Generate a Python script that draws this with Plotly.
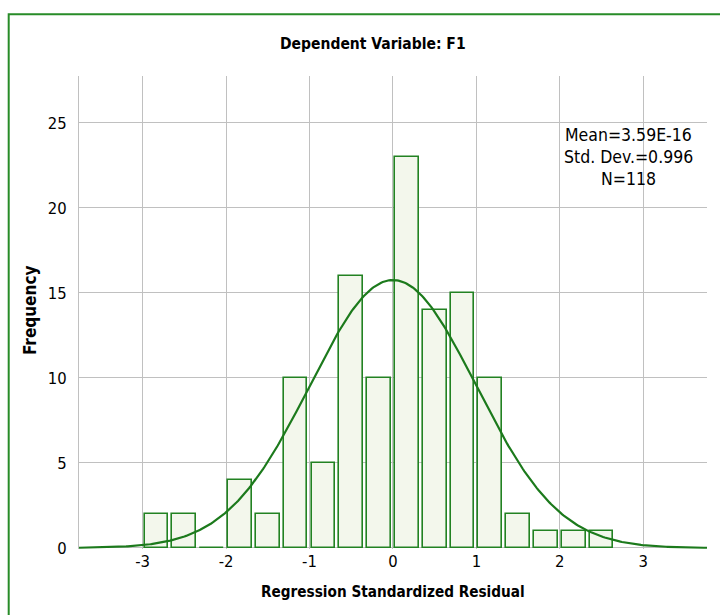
import numpy as np
import plotly.graph_objects as go

# ---- data ----
bin_centers = [-2.833, -2.5, -2.167, -1.833, -1.5, -1.167, -0.833, -0.5, -0.167,
               0.167, 0.5, 0.833, 1.167, 1.5, 1.833, 2.167, 2.5]
frequencies = [2, 2, 0, 4, 2, 10, 5, 16, 10, 23, 14, 15, 10, 2, 1, 1, 1]
x_ticks = [-3, -2, -1, 0, 1, 2, 3]
y_ticks = [0, 5, 10, 15, 20, 25]
stats_lines = ["Mean=3.59E-16", "Std. Dev.=0.996", "N=118"]
MEAN = 3.59e-16
STD = 0.996
N = 118
BIN_WIDTH = 1 / 3
title_text = "Dependent Variable: F1"
x_title = "Regression Standardized Residual"
y_title = "Frequency"

# fitted normal curve (from the stated mean / std / N)
X_MIN, X_MAX = -3.763, 3.764
curve_x = np.linspace(X_MIN, X_MAX, 400)
curve_y = N * BIN_WIDTH * np.exp(-0.5 * ((curve_x - MEAN) / STD) ** 2) / (STD * np.sqrt(2 * np.pi))

FONT = "DejaVu Sans Condensed, Tahoma, DejaVu Sans, sans-serif"
GREEN = "rgb(34,130,34)"
GRID = "rgb(192,192,192)"

fig = go.Figure()
fig.add_trace(go.Bar(
    x=bin_centers, y=frequencies, width=0.285,
    marker=dict(color="rgb(243,247,236)", line=dict(color=GREEN, width=1.6)),
    hoverinfo="x+y", showlegend=False,
))
fig.add_trace(go.Scatter(
    x=curve_x, y=curve_y, mode="lines",
    line=dict(color="rgb(28,122,28)", width=2.2),
    hoverinfo="skip", showlegend=False,
))

W, H = 720, 615
L, R, T, B = 79, 13, 76, 66
pw, ph = W - L - R, H - T - B

def px(xp):
    return (xp - L) / pw

def py(yp):
    return (H - B - yp) / ph

annotations = [
    dict(text=f"<b>{title_text}</b>", x=px(373), y=py(44), xref="paper", yref="paper",
         showarrow=False, xanchor="center", yanchor="middle",
         font=dict(family=FONT, size=15.5, color="black")),
    dict(text=f"<b>{x_title}</b>", x=px(393), y=py(592), xref="paper", yref="paper",
         showarrow=False, xanchor="center", yanchor="middle",
         font=dict(family=FONT, size=15.2, color="black")),
    dict(text=f"<b>{y_title}</b>", x=px(30), y=py(311), xref="paper", yref="paper",
         showarrow=False, xanchor="center", yanchor="middle", textangle=-90,
         font=dict(family=FONT, size=17, color="black")),
]
for i, line in enumerate(stats_lines):
    annotations.append(dict(
        text=line, x=px(628), y=py(135 + 22 * i), xref="paper", yref="paper",
        showarrow=False, xanchor="center", yanchor="middle",
        font=dict(family=FONT, size=17.5, color="black")))

fig.update_layout(
    width=W, height=H,
    margin=dict(l=L, r=R, t=T, b=B),
    paper_bgcolor="white", plot_bgcolor="white",
    bargap=0,
    annotations=annotations,
    shapes=[dict(type="rect", xref="paper", yref="paper",
                 x0=px(8.7), x1=px(760), y0=py(660), y1=py(14.3),
                 line=dict(color="rgb(40,140,40)", width=2), layer="above")],
    xaxis=dict(range=[X_MIN, X_MAX], tickvals=x_ticks, ticktext=[str(v) for v in x_ticks],
               showgrid=True, gridcolor=GRID, gridwidth=1, zeroline=False,
               showline=False, ticks="", tickfont=dict(family=FONT, size=16.5, color="black")),
    yaxis=dict(range=[-0.06, 27.75], tickvals=y_ticks, ticktext=[str(v) for v in y_ticks],
               showgrid=True, gridcolor=GRID, gridwidth=1, zeroline=False,
               showline=True, linecolor=GRID, linewidth=1, ticks="",
               ticklabelstandoff=8,
               tickfont=dict(family=FONT, size=16.5, color="black")),
)

fig.write_html("out.html")
